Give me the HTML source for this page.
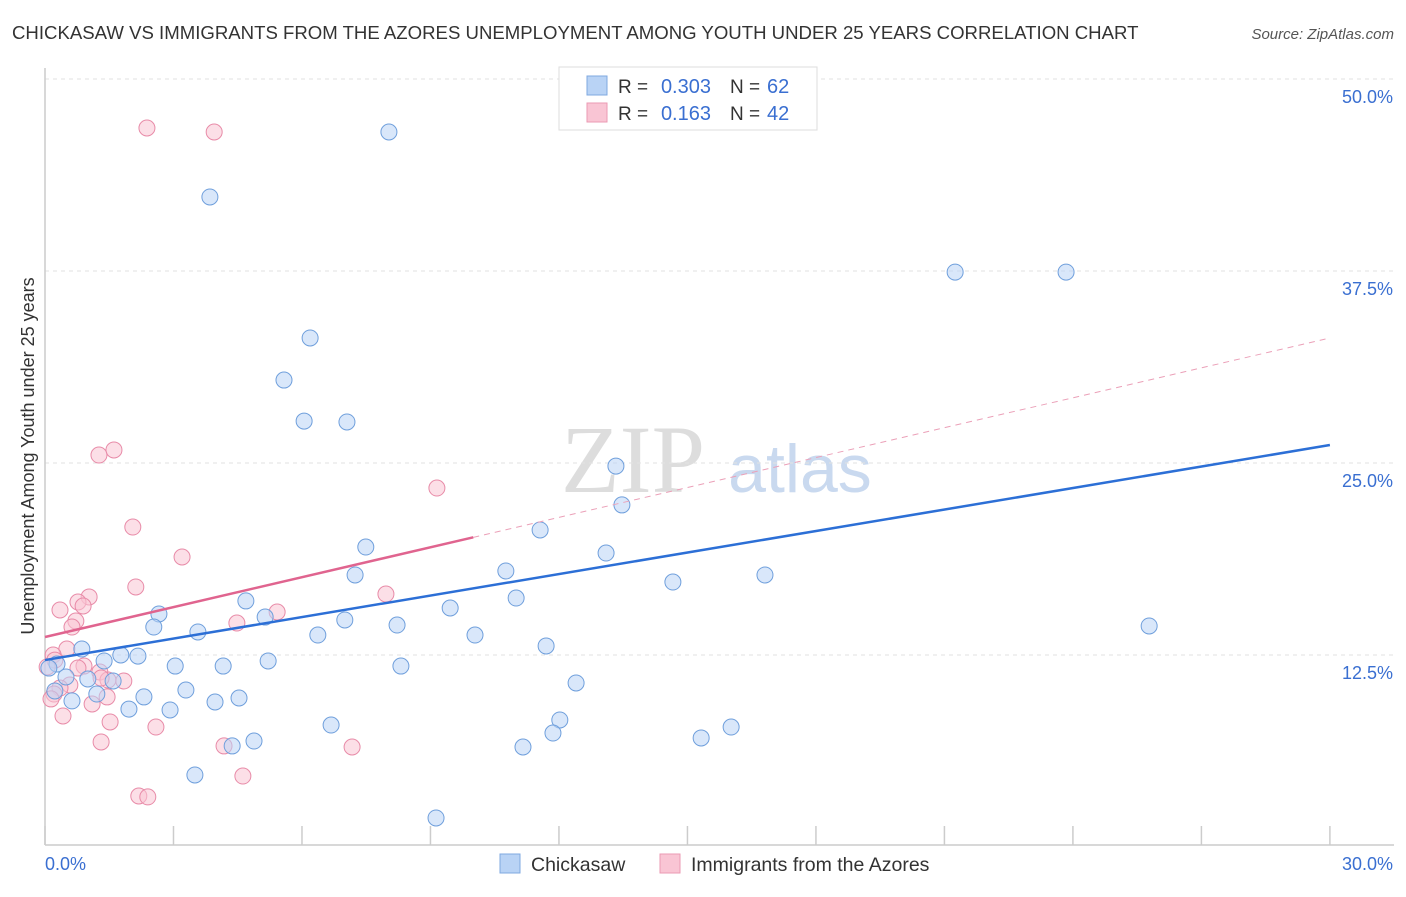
<!DOCTYPE html>
<html><head><meta charset="utf-8"><style>
body{margin:0;background:#fff;font-family:"Liberation Sans",sans-serif;}
</style></head><body>
<svg width="1406" height="892" viewBox="0 0 1406 892" font-family="Liberation Sans, sans-serif">
<text x="12" y="39" font-size="18.6" fill="#333">CHICKASAW VS IMMIGRANTS FROM THE AZORES UNEMPLOYMENT AMONG YOUTH UNDER 25 YEARS CORRELATION CHART</text>
<text x="1394" y="39" font-size="15" fill="#555" font-style="italic" text-anchor="end">Source: ZipAtlas.com</text>
<g><text x="633" y="492" font-size="96" fill="#ddd" style="font-family:'Liberation Serif',serif" text-anchor="middle">ZIP</text><text x="800" y="492" font-size="68" fill="#c9d9ef" text-anchor="middle">atlas</text></g>
<g id="grid"></g>
<g id="axes"></g>
<g id="trends"></g>
<g id="pts"></g>
<text transform="translate(34,456) rotate(-90)" font-size="18" fill="#333" text-anchor="middle">Unemployment Among Youth under 25 years</text>
<g>
<rect x="559" y="67" width="258" height="63" fill="#fff" stroke="#ddd"/>
<rect x="587" y="76" width="20" height="19" fill="#b9d3f5" stroke="#7fa8e0"/>
<rect x="587" y="103" width="20" height="19" fill="#f9c5d4" stroke="#eb9ab3"/>
<text x="618" y="93" font-size="19" fill="#333">R =</text>
<text x="711" y="93" font-size="20" fill="#3a6fd1" text-anchor="end">0.303</text>
<text x="730" y="93" font-size="19" fill="#333">N =</text>
<text x="767" y="93" font-size="20" fill="#3a6fd1">62</text>
<text x="618" y="120" font-size="19" fill="#333">R =</text>
<text x="711" y="120" font-size="20" fill="#3a6fd1" text-anchor="end">0.163</text>
<text x="730" y="120" font-size="19" fill="#333">N =</text>
<text x="767" y="120" font-size="20" fill="#3a6fd1">42</text>
</g>
<g>
<rect x="500" y="854" width="20" height="19" fill="#b9d3f5" stroke="#7fa8e0"/>
<text x="531" y="871" font-size="19.5" fill="#333">Chickasaw</text>
<rect x="660" y="854" width="20" height="19" fill="#f9c5d4" stroke="#eb9ab3"/>
<text x="691" y="871" font-size="19.5" fill="#333">Immigrants from the Azores</text>
</g>
</svg>
<script>
const yTicks=[12.5,25,37.5,50];
const yTickLabels=["12.5%","25.0%","37.5%","50.0%"];
const xTicks=[0,3,6,9,12,15,18,21,24,27,30];
const blueX=[8.03,3.85,21.25,23.84,6.19,5.58,6.05,7.05,13.33,13.47,11.56,7.49,13.1,10.76,7.24,14.66,16.81,11.0,4.69,9.46,2.66,5.14,7.0,2.54,3.57,6.37,10.04,8.22,25.78,11.7,0.86,1.77,2.17,1.38,5.21,3.04,4.16,8.31,0.28,0.09,0.49,1.0,1.59,12.4,3.29,1.21,0.23,2.31,4.53,0.63,3.97,1.96,2.92,12.02,6.68,11.86,16.02,15.32,4.88,4.37,11.16,3.5,9.13];
const blueY=[46.55,42.32,37.43,37.43,33.14,30.4,27.73,27.67,24.8,22.27,20.64,19.53,19.14,17.97,17.71,17.25,17.71,16.21,16.02,15.56,15.17,14.97,14.78,14.32,14.0,13.8,13.8,14.45,14.39,13.09,12.89,12.5,12.43,12.11,12.11,11.78,11.78,11.78,11.91,11.65,11.07,10.94,10.81,10.68,10.22,9.96,10.16,9.77,9.7,9.51,9.44,8.98,8.92,8.27,7.94,7.42,7.81,7.1,6.9,6.58,6.51,4.69,1.89];
const pinkX=[2.38,3.95,1.61,1.26,9.15,2.05,3.2,2.12,1.03,0.77,0.89,0.35,5.42,7.96,0.72,0.63,4.48,0.51,0.19,0.23,0.05,0.91,0.77,1.28,1.47,1.84,0.58,0.35,0.21,1.45,0.14,1.1,0.42,1.52,2.59,1.31,4.18,7.17,4.62,2.19,2.4,1.31];
const pinkY=[46.81,46.55,25.85,25.52,23.37,20.83,18.88,16.93,16.28,15.95,15.69,15.43,15.3,16.47,14.71,14.32,14.58,12.89,12.5,12.17,11.72,11.78,11.65,11.39,10.87,10.81,10.55,10.35,9.96,9.77,9.64,9.31,8.53,8.14,7.81,6.84,6.58,6.51,4.62,3.32,3.26,11.0];
const blueTrend=[12.17,26.17];
const pinkTrend=[13.67,33.14];
const pinkSolidEnd=10;
const NS="http://www.w3.org/2000/svg";
const X=v=>45+v*42.83, Y=v=>847-v*15.36;
function mk(p,t,a){const e=document.createElementNS(NS,t);for(const k in a)e.setAttribute(k,a[k]);p.appendChild(e);return e;}
const grid=document.getElementById('grid'),axes=document.getElementById('axes'),tr=document.getElementById('trends'),pts=document.getElementById('pts');
yTicks.forEach((v,i)=>{
 const l=mk(grid,'line',{x1:45,x2:1394,y1:Y(v),y2:Y(v),stroke:'#e2e2e2','stroke-dasharray':'4,4'});
 
 
 const t=mk(axes,'text',{x:1393,y:Y(v)+24,'font-size':18,fill:'#3a6fd1','text-anchor':'end'});
 t.textContent=yTickLabels[i];
 
 
});
const ax=mk(axes,'line',{x1:45,x2:1394,y1:845,y2:845,stroke:'#ccc','stroke-width':1.5});


const ay=mk(axes,'line',{x1:45,x2:45,y1:68,y2:845,stroke:'#ccc','stroke-width':1.5});


xTicks.forEach(v=>{
 const l=mk(axes,'line',{x1:X(v),x2:X(v),y1:826,y2:845,stroke:'#ccc','stroke-width':1.5});
 
 
});
const t0=mk(axes,'text',{x:45,y:870,'font-size':18,fill:'#3a6fd1'});t0.textContent='0.0%';


const t1=mk(axes,'text',{x:1393,y:870,'font-size':18,fill:'#3a6fd1','text-anchor':'end'});t1.textContent='30.0%';


const pm=(pinkTrend[1]-pinkTrend[0])/30;
const pd=mk(tr,'line',{x1:X(pinkSolidEnd),y1:Y(pinkTrend[0]+pm*pinkSolidEnd),x2:X(30),y2:Y(pinkTrend[1]),stroke:'#eba0b8','stroke-width':1,'stroke-dasharray':'6,5'});


function dots(xs,ys,fill,stroke,name){xs.forEach((x,i)=>{const c=mk(pts,'circle',{cx:X(x),cy:Y(ys[i]),r:8,fill:fill,'fill-opacity':0.55,stroke:stroke,'stroke-width':1});
 
 });}
dots(pinkX,pinkY,'#f9c5d4','#e88ba8','azores-point');
dots(blueX,blueY,'#b9d3f5','#6f9fdc','chickasaw-point');
const bl=mk(tr,'line',{x1:X(0),y1:Y(blueTrend[0]),x2:X(30),y2:Y(blueTrend[1]),stroke:'#2c6fd6','stroke-width':2.5});


const pl=mk(tr,'line',{x1:X(0),y1:Y(pinkTrend[0]),x2:X(pinkSolidEnd),y2:Y(pinkTrend[0]+pm*pinkSolidEnd),stroke:'#e0648f','stroke-width':2.5});


pts.parentNode.appendChild(tr);
</script>
</body></html>
